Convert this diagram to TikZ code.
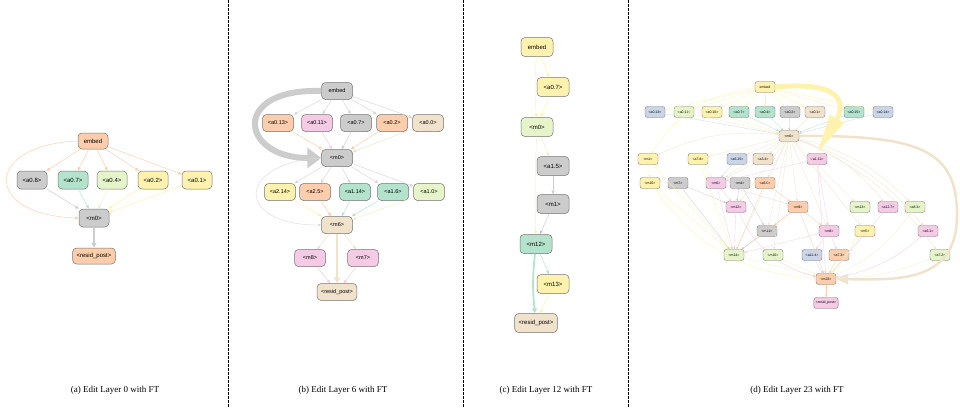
\documentclass[tikz,border=0pt]{standalone}
\usepackage{fontspec}
\setmainfont{Liberation Serif}
\newfontfamily\nodefont{Liberation Sans}
\usetikzlibrary{arrows.meta,positioning}

\definecolor{pgreen}{HTML}{B3E2CD}
\definecolor{porange}{HTML}{FDCDAC}
\definecolor{pblue}{HTML}{CBD5E8}
\definecolor{ppink}{HTML}{F4CAE4}
\definecolor{plime}{HTML}{E6F5C9}
\definecolor{pyellow}{HTML}{FFF2AE}
\definecolor{pbeige}{HTML}{F1E2CC}
\definecolor{pgray}{HTML}{CCCCCC}

\tikzset{
  boxa/.style={draw=black!55, line width=0.5pt, rounded corners=4pt, minimum width=30pt,
    minimum height=18pt, inner xsep=4pt, font=\nodefont\fontsize{6}{7}\selectfont},
  boxb/.style={boxa, minimum width=31pt, minimum height=17pt, font=\nodefont\fontsize{5.5}{6.5}\selectfont},
  boxc/.style={boxa, minimum width=32pt, minimum height=19pt},
  boxd/.style={draw=black!55, line width=0.35pt, rounded corners=2.5pt, minimum width=20pt,
    minimum height=11pt, inner xsep=2pt, font=\nodefont\fontsize{3.5}{4}\selectfont},
  link/.style={draw=#1, line width=0.45pt, -{Triangle[length=3.5pt,width=3pt]}},
  linkd/.style={draw=#1, line width=0.3pt, -{Triangle[length=2.2pt,width=2pt]}},
  caption/.style={font=\fontsize{9}{11}\selectfont}
}

\begin{document}
\begin{tikzpicture}[x=1pt,y=-1pt]
\useasboundingbox (0,0) rectangle (960,407);

% separators
\draw[dashed, line width=0.6pt, dash pattern=on 2.5pt off 1.5pt] (228,0) -- (228,407);
\draw[dashed, line width=0.6pt, dash pattern=on 2.5pt off 1.5pt] (463,0) -- (463,407);
\draw[dashed, line width=0.6pt, dash pattern=on 2.5pt off 1.5pt] (628,0) -- (628,407);

% (a)
\node[boxa, fill=porange, minimum height=16pt] (A-embed) at (93,141) {embed};
\node[boxa, fill=pgray] (A-a08) at (32,180) {<a0.8>};
\node[boxa, fill=pgreen] (A-a07) at (73,180) {<a0.7>};
\node[boxa, fill=plime] (A-a04) at (112,180) {<a0.4>};
\node[boxa, fill=pyellow] (A-a02) at (153,180) {<a0.2>};
\node[boxa, fill=pyellow] (A-a01) at (197,180) {<a0.1>};
\node[boxa, fill=pgray] (A-m0) at (94,218) {<m0>};
\node[boxa, fill=porange, minimum height=16pt] (A-resid) at (94,256) {<resid\_post>};

\foreach \t in {a08,a07,a04,a02,a01}
  \draw[link=porange] (A-embed) -- (A-\t);
\draw[link=porange] (A-embed.west) .. controls (-17,145) and (-17,215) .. (A-m0.west);
\foreach \s/\c in {a08/pgray,a07/pgreen,a04/plime,a02/pyellow,a01/pyellow}
  \draw[link=\c] (A-\s) -- (A-m0);
\draw[pgray, line width=1.2pt, -{Triangle[length=5pt,width=5pt]}] (A-m0) -- (A-resid);

% (b)
\node[boxb, fill=pgray] (B-embed) at (337,91) {embed};
\node[boxb, fill=porange] (B-a013) at (278,123) {<a0.13>};
\node[boxb, fill=ppink] (B-a011) at (317,123) {<a0.11>};
\node[boxb, fill=pgray] (B-a07) at (356,123) {<a0.7>};
\node[boxb, fill=porange] (B-a02) at (392,123) {<a0.2>};
\node[boxb, fill=pbeige] (B-a00) at (428,123) {<a0.0>};
\node[boxb, fill=pgray] (B-m0) at (337,158) {<m0>};
\node[boxb, fill=pyellow] (B-a214) at (280,192) {<a2.14>};
\node[boxb, fill=porange] (B-a25) at (315,192) {<a2.5>};
\node[boxb, fill=pgreen] (B-a114) at (355,192) {<a1.14>};
\node[boxb, fill=pgreen] (B-a16) at (393,192) {<a1.6>};
\node[boxb, fill=plime] (B-a10) at (429,192) {<a1.0>};
\node[boxb, fill=pbeige] (B-m6) at (337,225) {<m6>};
\node[boxb, fill=ppink] (B-m8) at (310,258) {<m8>};
\node[boxb, fill=ppink] (B-m7) at (363,258) {<m7>};
\node[boxb, fill=pbeige] (B-resid) at (337,292) {<resid\_post>};

\draw[pgray, line width=6pt, -{Triangle[length=14pt,width=20pt]}]
  (B-embed.west) .. controls (230,88) and (240,158) .. (B-m0.west);
\foreach \t in {a013,a011,a07,a02,a00}
  \draw[link=pgray!80] (B-embed) -- (B-\t);
\foreach \s/\c in {a013/porange,a011/ppink,a07/pgray,a02/porange,a00/pbeige}
  \draw[link=\c] (B-\s) -- (B-m0);
\foreach \t in {a214,a25,a114,a16,a10}
  \draw[link=pgray!80] (B-m0) -- (B-\t);
\draw[link=pgray!70] (B-m0.west) .. controls (235,163) and (235,225) .. (B-m6.west);
\foreach \s/\c in {a214/pyellow,a25/porange,a114/pgreen,a16/pgreen,a10/plime}
  \draw[link=\c] (B-\s) -- (B-m6);
\draw[link=pbeige] (B-m6) -- (B-m8);
\draw[link=pbeige] (B-m6) -- (B-m7);
\draw[link=ppink] (B-m8) -- (B-resid);
\draw[link=ppink] (B-m7) -- (B-resid);
\draw[pbeige, line width=2pt, -{Triangle[length=6pt,width=6pt]}] (B-m6) -- (B-resid);

% (c)
\node[boxc, fill=pyellow] (C-embed) at (537,47) {embed};
\node[boxc, fill=pyellow] (C-a07) at (553,87) {<a0.7>};
\node[boxc, fill=plime] (C-m0) at (537,127) {<m0>};
\node[boxc, fill=pgray] (C-a15) at (553,166) {<a1.5>};
\node[boxc, fill=pgray] (C-m1) at (553,204) {<m1>};
\node[boxc, fill=pgreen] (C-m12) at (536,244) {<m12>};
\node[boxc, fill=pyellow] (C-m13) at (553,284) {<m13>};
\node[boxc, fill=pbeige] (C-resid) at (536,323) {<resid\_post>};

\draw[link=pyellow] (C-embed) -- (C-a07);
\draw[link=pyellow] (C-embed) to[bend right=4] (C-m0);
\draw[link=pyellow] (C-a07) -- (C-m0);
\draw[link=plime] (C-m0) -- (C-a15);
\draw[link=plime] (C-m0) to[bend right=2] (C-m12);
\draw[link=pgray] (C-a15) -- (C-m1);
\draw[link=pgray] (C-m1) -- (C-m12);
\draw[link=pgreen] (C-m12) -- (C-m13);
\draw[link=pyellow] (C-m13) -- (C-resid);
\draw[pgreen, line width=1.8pt, -{Triangle[length=5pt,width=5pt]}] (C-m12) to[bend right=6] (C-resid);

% (d)
\coordinate (D-turn) at (957,215);
\foreach \n/\x/\y/\c/\t in {
  embed/765/87/pyellow/embed,
  a013/655/112/pblue/<a0.13>, a011/684/112/plime/<a0.11>, a010/712/112/pyellow/<a0.10>,
  a07/739/112/pgreen/<a0.7>, a04/765/112/pgreen/<a0.4>, a02/790/112/pgray/<a0.2>,
  a01/815/112/pbeige/<a0.1>, a015/854/112/pgreen/<a0.15>, a014/883/112/pblue/<a0.14>,
  m0/789/136/pbeige/<m0>,
  m1/648/159/pyellow/<m1>, a78/698/159/pyellow/<a7.8>, a615/737/159/pblue/<a6.15>,
  a34/763/159/pbeige/<a3.4>, a111/817/159/ppink/<a1.11>,
  m16/650/183/pyellow/<m16>, m7/678/183/pgray/<m7>, m6/716/183/ppink/<m6>,
  m4/740/183/pgray/<m4>, a66/765/183/porange/<a6.6>,
  m12/736/207/ppink/<m12>, m9/798/207/porange/<m9>, m13/860/207/plime/<m13>,
  a127/888/207/ppink/<a12.7>, a83/915/207/plime/<a8.3>,
  m11/767/231/pgray/<m11>, m8/829/231/ppink/<m8>, m5/865/231/pyellow/<m5>, a61/928/231/ppink/<a6.1>,
  m14/734/255/plime/<m14>, m10/773/255/plime/<m10>, a114/812/255/pblue/<a11.4>,
  a73/839/255/porange/<a7.3>, a72/940/255/plime/<a7.2>,
  m23/826/279/porange/<m23>, resid/826/303/ppink/<resid\_post>}
  \node[boxd, fill=\c] (D-\n) at (\x,\y) {\t};

\draw[pbeige, line width=2.5pt, -{Triangle[length=12pt,width=10pt]}]
  (D-m0.east) .. controls (920,135) and (957,150) .. (D-turn)
  .. controls (957,282) and (900,280) .. (D-m23.east);
\foreach \t in {a013,a011,a010,a07,a04,a02,a01,a015,a014}
  \draw[linkd=pyellow] (D-embed) -- (D-\t);
\foreach \s/\c in {a013/pblue,a011/plime,a010/pyellow,a07/pgreen,a04/pgreen,
  a02/pgray,a01/pbeige,a015/pgreen,a014/pblue}
  \draw[linkd=\c] (D-\s) -- (D-m0);
\foreach \t in {a78,a615,a34,m6,a66,m12,m9,m13,m8,m5,m11,m14,m10}
  \draw[linkd=pbeige] (D-m0) -- (D-\t);
\foreach \s/\t/\c in {a111/m6/ppink, a111/m8/ppink, a111/m23/ppink,
  m1/m16/pyellow, m1/m14/pyellow, a78/m6/pyellow, a78/m14/pyellow, a615/m6/pblue,
  a34/m6/pbeige, m16/m14/pyellow, m7/m12/pgray, m7/m14/pgray,
  m6/m12/ppink, m6/m9/ppink, m6/m14/ppink, m4/m12/pgray, m4/m11/pgray,
  a66/m9/porange, a66/m14/porange, m12/m14/ppink, m9/m11/porange, m9/m8/porange,
  m9/m14/porange, m9/m23/porange, a127/m23/ppink, m11/m14/pgray, m8/a114/ppink,
  m8/a73/ppink, m8/m14/ppink, m5/m23/pyellow, m14/m23/plime, m10/m23/plime,
  a114/m23/pblue, a73/m23/porange, m23/resid/porange}
  \draw[linkd=\c] (D-\s) -- (D-\t);
\draw[linkd=pyellow] (D-embed) to[bend right=25] (D-m1);
\draw[linkd=pbeige] (D-m0) to[bend right=15] (D-m1);
\foreach \t in {a127,a83,a61,a72}
  \draw[linkd=pbeige] (D-m0) to[bend left=15] (D-\t);
\draw[linkd=pyellow] (D-m16) to[bend right=25] (D-m23);
\draw[linkd=ppink] (D-m12) to[bend right=25] (D-m23);
\draw[linkd=plime] (D-m13) to[bend left=20] (D-m23);
\draw[linkd=plime] (D-a83) to[bend left=15] (D-m23);
\draw[linkd=ppink] (D-a61) to[bend left=15] (D-m23);
\draw[linkd=plime] (D-a72) to[bend left=10] (D-m23);
\draw[pyellow, line width=5pt, -{Triangle[length=40pt,width=15pt]}]
  (D-embed.east) .. controls (852,80) and (842,110) .. (D-a111.north);

% captions
\node[caption] (cap-a) at (115,390) {(a) Edit Layer 0 with FT};
\node[caption] (cap-b) at (343,390) {(b) Edit Layer 6 with FT};
\node[caption] (cap-c) at (546,390) {(c) Edit Layer 12 with FT};
\node[caption] (cap-d) at (797,390) {(d) Edit Layer 23 with FT};
\end{tikzpicture}
\end{document}
